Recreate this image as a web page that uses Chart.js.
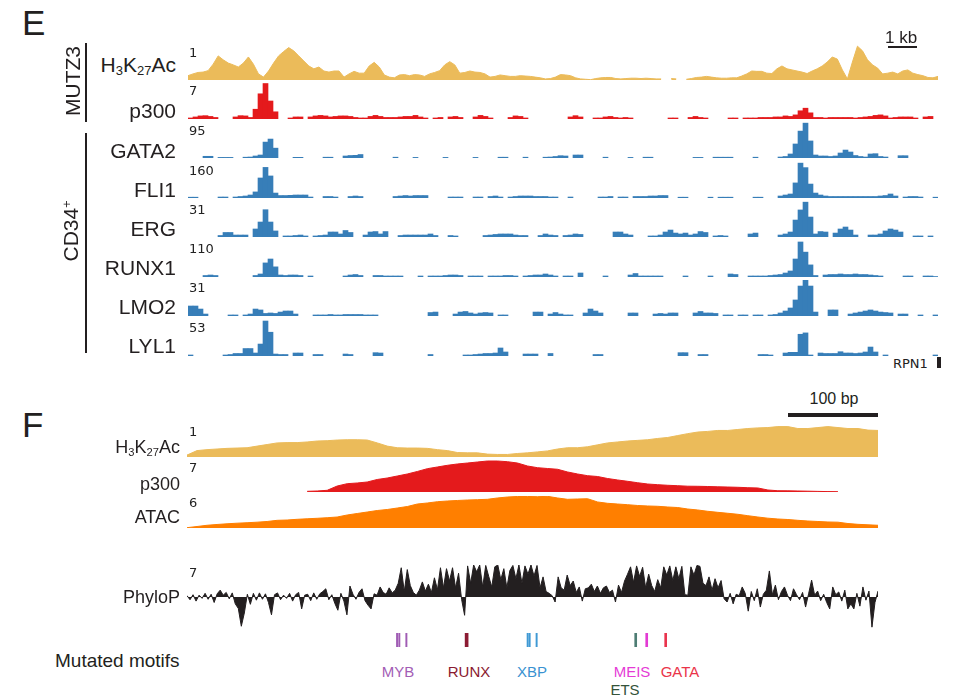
<!DOCTYPE html>
<html>
<head>
<meta charset="utf-8">
<script src="https://cdn.jsdelivr.net/npm/chart.js"></script>
<style>
  body { margin: 0; background: #fff; }
  #fig { position: relative; width: 957px; height: 697px; overflow: hidden; background: #fff;
         font-family: "Liberation Sans", Arial, sans-serif; color: #231f20; }
  #fig canvas { position: absolute; }
  .t { position: absolute; white-space: nowrap; line-height: 1; }
  .t sub { font-size: 0.62em; vertical-align: -0.25em; line-height: 0; }
  .t sup { font-size: 0.6em; vertical-align: 0.55em; line-height: 0; }
  .rule { position: absolute; background: #231f20; }
</style>
</head>
<body>
<div id="fig"></div>
<script>
// ---------- panel E : 150 equal bins across the locus ----------
const h3k27acE = [
  .12,.17,.21,.22,.26,.44,.67,.56,.47,.42,
  .36,.47,.64,.44,.17,.08,.25,.47,.67,.79,
  .9,.81,.67,.53,.39,.31,.36,.25,.22,.25,
  .25,.08,.17,.24,.19,.19,.39,.49,.36,.14,
  .08,.06,.14,.15,.12,.15,.14,.1,.17,.21,
  .26,.42,.51,.42,.19,.21,.25,.22,.21,.17,
  .08,.1,.14,.12,.1,.1,.12,.11,.1,.08,
  .06,.03,.04,.08,.15,.14,.12,.06,.03,.02,
  .01,.04,.06,.07,.07,.04,.03,.04,.05,.05,
  .04,.05,.04,.03,.03,null,.04,.03,null,.02,
  .04,.07,.08,.1,.08,.06,.05,.05,.06,.06,
  .11,.17,.25,.24,.24,.19,.18,.31,.39,.31,
  .28,.25,.22,.18,.25,.31,.39,.5,.64,.58,
  .28,.03,.5,.94,.81,.56,.42,.33,.17,.19,
  .22,.17,.25,.28,.19,.15,.12,.07,.06,.1
];
const p300E = [
  .2,.4,.6,.65,.5,.3,null,null,null,.4,
  .65,.6,.3,1.9,4.9,6.9,3.5,1.4,null,null,
  .2,.4,.4,null,.4,.6,.7,.6,.4,.5,
  .6,.6,.5,.3,.2,.2,.5,.7,.5,.3,
  .3,.3,.4,.5,.5,.7,.4,.2,null,.2,
  .3,null,.4,.5,.3,null,null,.4,.7,.5,
  .2,null,null,null,.3,.6,.5,.2,null,null,
  null,null,null,null,null,null,.4,.65,.4,null,
  null,.2,.2,.4,.5,.3,.2,.3,.2,null,
  null,null,null,null,null,null,.2,.2,null,null,
  .3,.5,.3,.2,null,null,null,null,.2,.2,
  null,.2,.2,.2,.3,.3,.3,.4,.4,.6,
  .5,.8,1.6,2.1,1.2,.3,.3,.2,.3,.3,
  .3,.3,.3,.2,.3,.4,.5,.7,.8,.6,
  .2,.3,.4,.4,.4,.2,null,.4,.5,null
];
const gata2 = [
  null,null,null,4.5,4.5,null,1.6,1.6,1.6,null,
  null,2.1,2.6,5.3,7.9,42,50,26,null,null,
  null,1.8,1.8,null,null,null,null,2.1,2.1,null,
  null,5.3,6.6,7.1,9.2,null,null,null,null,null,
  null,2.1,null,null,null,1.6,null,null,null,null,
  null,1.6,null,null,null,null,null,1.6,null,null,
  null,null,2.1,2.1,null,null,null,2.1,null,null,
  null,2.1,2.6,4,6.1,5.3,null,7.9,7.9,null,
  null,null,null,2.1,null,null,null,null,1.6,null,
  null,2.1,2.1,null,null,null,null,null,null,null,
  null,1.6,1.6,null,null,2.1,2.1,2.1,2.1,null,
  null,null,null,2.1,null,null,null,null,2.6,4,
  10.6,37,71,92,45,7.9,5.3,5.3,4,5.3,
  13.2,21,15.8,6.6,4,2.6,10.6,11.4,4,2.6,
  null,null,6.1,6.1,null,null,null,null,null,null
];
const fli1 = [
  3.6,3.6,null,null,null,null,4.4,4.4,null,4.4,
  6.7,8.9,13.3,27,89,136,98,22,11,11,
  12,13.3,13.3,13.3,4.4,null,null,6.7,6.7,4.4,
  null,null,6.7,8.9,6.7,null,null,null,null,null,
  null,6.7,8.9,11,8.9,11,11,11,null,null,
  null,null,4.4,4.4,4.4,null,null,4.4,4.4,null,
  6.7,8.9,4.4,null,4.4,6.7,8.9,8.9,8.9,6.7,
  6.7,6.7,4.4,4.4,null,null,4.4,null,null,null,
  null,null,4.4,4.4,6.7,null,4.4,4.4,null,6.7,
  6.7,6.7,8.9,8.9,11,11,null,null,3.6,3.6,
  null,null,null,null,3.6,null,3.6,3.6,3.6,null,
  null,null,null,3.6,3.6,null,null,null,8.9,13.3,
  17.8,67,155,135,62,22,13.3,8.9,6.7,6.7,
  6.7,6.7,6.7,6.7,6.7,6.7,6.7,6.7,8.9,11,
  17.8,8.9,null,4.4,6.7,6.7,4.4,null,null,3.6
];
const erg = [
  null,null,null,null,null,null,1.3,3.9,3.9,1.7,
  1.7,1.7,null,6.9,12.9,23.5,12.9,5.2,null,.9,
  .9,1.3,1.7,.9,null,.9,1.3,1.7,4.3,4.3,
  2.6,5.6,3.9,null,null,1.7,4.3,4.7,2.6,4.7,
  null,null,1.3,1.7,1.7,1.7,1.7,1.7,2.6,1.3,
  null,null,1.3,.9,null,null,null,null,null,1.3,
  1.7,2.2,2.6,2.6,2.6,1.7,1.3,1.3,null,null,
  1.3,2.6,1.7,1.3,null,1.3,1.7,2.6,2.2,null,
  null,null,null,null,null,4.3,4.3,2.6,1.7,null,
  null,null,.9,.9,1.7,4.3,6,3.4,2.6,3.4,
  1.7,2.6,4.7,3.9,null,.9,1.3,.9,null,null,
  null,null,2.6,3.4,null,null,null,null,1.7,2.6,
  4.3,14.6,23.3,30,17.2,2.6,4.7,4.3,null,3.4,
  6.9,8.6,6,1.7,null,null,1.7,1.7,2.6,5.2,
  6.9,6,4.3,null,null,.9,.9,null,.9,null
];
const runx1 = [
  null,null,null,4.6,6.1,4.6,null,null,null,null,
  null,null,null,4.6,9.2,43,55,31,6.1,4.6,
  6.1,6.1,4.6,null,3.1,null,null,null,null,null,
  null,3.1,6.1,7.6,4.6,null,null,4.6,4.6,3.1,
  3.1,3.1,3.1,null,null,null,3.1,null,3.1,3.1,
  3.1,4.6,6.1,6.1,4.6,null,3.1,3.1,3.1,null,
  3.1,3.1,3.1,4.6,4.6,3.1,null,3.1,4.6,6.1,
  6.1,9.2,6.1,3.1,null,3.1,3.1,null,12.2,null,
  null,null,null,3.1,null,null,null,null,6.1,10.7,
  3.1,3.1,3.1,3.1,3.1,null,null,null,null,3.1,
  null,null,null,null,3.1,null,null,null,9.2,7.6,
  null,null,3.1,3.1,3.1,3.1,4.6,6.1,7.6,12.2,
  18.4,55,107,76,37,4.6,null,6.1,7.6,7.6,
  9.2,7.6,7.6,9.2,7.6,7.6,6.1,4.6,3.1,null,
  null,null,null,3.1,3.1,null,null,3.1,3.1,1.5
];
const lmo2 = [
  8.6,8.6,6,1.7,null,null,null,null,.9,.9,
  null,.9,1.7,6,5.2,2.2,2.6,2.2,3.4,4.3,
  4.3,1.7,null,null,null,.9,.9,.9,1.3,.9,
  .9,1.3,1.3,1.3,1.3,.9,.9,.9,null,null,
  null,null,null,null,null,null,null,null,3,3.4,
  null,null,null,1.7,3.4,3.9,2.6,1.7,2.6,3,
  2.6,null,.9,.9,null,null,null,null,null,3.4,
  3.4,null,1.7,3,1.7,.9,.9,null,null,2.6,
  6,4.3,2.6,null,null,null,null,null,2.6,2.6,
  null,null,null,1.7,2.2,1.7,2.6,2.6,null,null,
  null,2.6,3.9,2.6,2.6,2.2,null,.9,.9,null,
  .9,.9,null,.9,.9,null,.9,1.3,2.6,4.3,
  6.9,13.8,25.8,31,25.8,3.4,null,null,5.2,5.2,
  null,null,1.7,2.6,3.4,4.3,5.2,4.3,3.4,3,
  2.6,null,1.7,1.7,null,null,.9,null,null,.9
];
const lyl1 = [
  1.5,null,null,null,null,null,null,1.5,2.2,3.7,
  3.7,11,11,4.4,17.6,51.5,35,2.9,2.2,2.2,
  null,4.4,4.4,null,null,2.2,2.2,null,null,null,
  null,2.9,2.2,null,null,null,null,4.9,4.4,null,
  null,null,null,null,null,null,null,null,2.2,null,
  null,null,null,null,null,1.5,1.5,2.2,2.9,3.7,
  3.7,4.4,11.8,5.9,null,null,null,2.9,2.9,2.9,
  null,null,3.7,null,null,null,null,null,null,null,
  null,2.2,2.2,null,null,null,null,null,null,null,
  null,null,null,null,null,null,null,null,4.9,4.9,
  null,null,2.2,2.2,null,null,null,null,null,null,
  null,null,null,null,2.2,2.2,1.5,null,null,4.4,
  5.4,5.4,32,34,1.5,null,4.4,3.7,3.7,3.7,
  6.3,4.4,4.4,3.7,4.4,5.9,13.2,5.9,null,1.5,
  null,null,null,null,null,null,null,null,null,1.5
];
const eNames = ["H<sub>3</sub>K<sub>27</sub>Ac", "p300", "GATA2", "FLI1", "ERG", "RUNX1", "LMO2", "LYL1"];
const eScale = [1, 7, 95, 160, 31, 110, 31, 53];

// ---------- panel F : enhancer close-up (772 bp) ----------
const h3k27acF = [
  .06,.2,.23,.25,.27,.28,.29,.34,.39,.44,
  .45,.45,.47,.5,.51,.53,.54,.54,.53,.44,
  .34,.29,.28,.28,.27,.23,.2,.14,.13,.13,
  .09,.08,.08,.11,.13,.16,.19,.25,.29,.29,
  .32,.38,.44,.47,.5,.52,.54,.58,.61,.67,
  .73,.78,.8,.83,.83,.86,.89,.91,.92,.95,
  .95,.89,.89,.92,.95,.92,.89,.89,.84,.83
];
const p300F = [
  null,null,null,null,null,null,null,null,null,null,
  null,null,.15,.22,.37,1.31,1.82,1.97,2.19,2.74,
  3.06,3.5,3.94,4.49,5.1,5.47,5.84,6.13,6.34,6.56,
  6.78,6.78,6.63,6.34,5.69,5.32,5.14,4.97,4.38,3.94,
  3.57,3.39,2.95,2.63,2.34,2.03,1.75,1.6,1.47,1.38,
  1.27,1.25,1.2,1.14,1.09,1.03,.94,.88,.44,.28,
  .26,.22,.18,.13,.09,.07,null,null,null,null
];
const atacF = [
  .06,.28,.51,.66,.79,.9,.99,1.09,1.22,1.44,
  1.5,1.63,1.73,1.82,1.93,2.06,2.44,2.72,3.0,3.28,
  3.47,3.75,4.03,4.5,4.69,4.93,5.06,5.16,5.25,5.31,
  5.38,5.63,5.81,5.91,5.91,5.87,5.94,5.63,5.38,5.44,
  5.49,4.88,4.63,4.5,4.37,4.22,4.13,4.07,3.94,3.84,
  3.56,3.38,3.13,2.94,2.76,2.57,2.31,2.06,1.84,1.69,
  1.59,1.44,1.31,1.22,1.13,1.09,.84,.69,.6,.51
];
const phyloP = [
  .3,-.6,.5,-.9,.4,-.3,.8,-.5,.6,-1.2,
  .7,1.5,.4,1.0,-.4,.9,-1.5,-2.5,-6.4,-3.5,
  .6,-1.6,.8,-.7,.9,-.5,.7,-1.2,-3.9,.5,
  .9,-.6,.4,-.3,.8,-.9,.5,1.0,-2.6,.4,
  .6,-.8,.9,-.5,.7,1.2,1.8,-.6,.5,-1.4,
  -2.9,.8,-.9,-3.9,2.4,.6,-.5,1.0,1.8,-.8,
  -1.8,-2.6,.7,.4,2.2,1.0,.6,2.0,.9,1.5,
  3.0,6.4,1.2,6.0,2.5,1.0,.4,1.5,3.3,1.3,
  2.8,1.0,4.2,1.6,6.4,2.0,6.2,3.5,6.4,2.0,
  5.2,-.5,-4.0,6.8,3.0,7.0,5.5,7.0,2.2,6.9,
  4.5,2.2,6.6,7.0,3.8,6.2,2.0,5.8,6.9,4.0,
  7.0,3.0,6.8,5.0,7.0,4.6,6.9,2.0,4.4,1.2,
  .8,.3,-1.1,4.4,2.0,1.5,4.8,2.5,3.5,1.0,
  2.2,-.9,1.8,2.0,2.8,1.2,2.4,.8,2.0,2.4,
  1.0,1.5,-1.1,2.6,1.0,3.5,5.0,6.6,3.2,6.8,
  4.5,6.5,2.0,5.0,2.5,1.2,3.8,2.0,6.6,4.8,
  6.8,3.6,6.6,4.0,6.7,.5,.4,6.6,4.8,6.9,
  6.7,3.0,2.5,4.4,1.5,4.0,2.0,3.6,-.4,-1.1,
  .8,-1.5,.6,.3,2.2,.8,-3.1,1.2,-.8,1.8,
  -2.2,.6,1.5,5.7,.5,2.6,-.6,1.2,2.2,.4,
  -.8,1.8,.5,-.6,1.0,-2.2,.7,3.7,.4,1.3,
  -.8,.6,-1.2,-2.6,2.2,.5,1.1,-.9,1.5,-2.6,
  -1.5,-2.6,.8,-2.0,2.2,-.7,1.3,-6.6,-1.2,1.3
];
const fNames = ["H<sub>3</sub>K<sub>27</sub>Ac", "p300", "ATAC"];
const fScale = [1, 7, 6];
const phyloScale = 7;
const regionBp = 772;

// mutated motifs (bp from the left edge of panel F)
const motifNames = ["MYB", "MYB", "MYB", "RUNX", "XBP", "XBP", "XBP", "ETS", "MEIS", "GATA"];
const motifPos = [234.7, 237.2, 245.1, 312.4, 380.6, 382.8, 390.6, 501.3, 513.6, 534.8];
const motifColor = { MYB: "#a05cb4", RUNX: "#8c1b33", XBP: "#3f99d4", ETS: "#4e7d74", MEIS: "#e23ad3", GATA: "#e9344e" };
const motifTextColor = { MYB: "#a35db5", RUNX: "#8a1a30", XBP: "#3a92d1", ETS: "#34533a", MEIS: "#e53bd6", GATA: "#ea3449" };

const YELLOW = "#ebbb5a", RED = "#e41a1c", BLUE = "#377eb8", ORANGE = "#ff7f00", INK = "#231f20";

const fig = document.getElementById("fig");

function text(html, x, base, size, align, color, family) {
  const d = document.createElement("div");
  d.className = "t";
  d.innerHTML = html;
  d.style.fontSize = size + "px";
  if (family) d.style.fontFamily = family;
  if (color) d.style.color = color;
  d.style.top = (base - 0.846 * size) + "px";
  if (align === "right") d.style.right = (957 - x) + "px";
  else if (align === "center") { d.style.left = x + "px"; d.style.transform = "translateX(-50%)"; }
  else d.style.left = x + "px";
  fig.appendChild(d);
}

function vtext(html, baseX, midY, size) {
  const d = document.createElement("div");
  d.className = "t";
  d.innerHTML = html;
  d.style.fontSize = size + "px";
  d.style.left = "0px";
  d.style.top = "0px";
  d.style.transformOrigin = "0 0";
  d.style.transform = "translate(" + baseX + "px," + midY + "px) rotate(-90deg) translate(-50%,-0.846em)";
  fig.appendChild(d);
}

function rule(x, y, w, h) {
  const d = document.createElement("div");
  d.className = "rule";
  d.style.left = x + "px"; d.style.top = y + "px";
  d.style.width = w + "px"; d.style.height = h + "px";
  fig.appendChild(d);
}

function canvasAt(left, top, w, h) {
  const c = document.createElement("canvas");
  c.width = w; c.height = h;
  c.style.left = left + "px"; c.style.top = top + "px";
  fig.appendChild(c);
  return c.getContext("2d");
}

const quiet = {
  responsive: false,
  animation: false,
  events: [],
  layout: { padding: 0 },
  plugins: { legend: { display: false }, tooltip: { enabled: false } }
};

function track(left, top, w, h, type, values, color, yMin, yMax) {
  const isBar = type === "bar";
  return new Chart(canvasAt(left, top, w, h), {
    type: type,
    data: {
      labels: values.map((_, i) => i),
      datasets: [{
        data: values,
        backgroundColor: color,
        borderColor: color,
        borderWidth: isBar ? 0 : 1,
        fill: isBar ? false : "origin",
        pointRadius: 0,
        tension: 0,
        barPercentage: 1,
        categoryPercentage: 1
      }]
    },
    options: Object.assign({}, quiet, {
      scales: {
        x: { display: false, offset: isBar },
        y: { display: false, min: yMin, max: yMax }
      }
    })
  });
}

// ---------- panel E ----------
const eData = [h3k27acE, p300E, gata2, fli1, erg, runx1, lmo2, lyl1];
const eColor = [YELLOW, RED, BLUE, BLUE, BLUE, BLUE, BLUE, BLUE];
const eTop = [44, 83, 122, 162, 201, 241, 280, 320];
const eLabelBase = [72, 118, 158, 197, 236, 275, 314, 353];
const eScaleBase = [57, 95, 135, 174.5, 214, 253, 292, 332];

eData.forEach(function (vals, k) {
  track(188, eTop[k], 750, 36, k === 0 ? "line" : "bar", vals, eColor[k], 0, eScale[k]);
  text(eNames[k], 176, eLabelBase[k], 21, "right");
  text(String(eScale[k]), 189, eScaleBase[k], 13, "left", "#222", "'DejaVu Sans', sans-serif");
});

text("E", 22, 35, 35, "left");
vtext("MUTZ3", 80, 81, 21);
vtext("CD34<sup>+</sup>", 77.5, 231, 21);
rule(85, 43, 2, 79);
rule(85, 133, 2, 220);
text("1 kb", 885, 43, 17, "left");
rule(888, 46, 29, 2);
text("RPN1", 893, 368, 13, "left", "#222", "'DejaVu Sans', sans-serif");
rule(937, 357, 4, 11);

// ---------- panel F ----------
const fData = [h3k27acF, p300F, atacF];
const fColor = [YELLOW, RED, ORANGE];
const fTop = [425, 460, 496];
const fLabelBase = [453, 490, 523];
const fScaleBase = [436, 472, 507];

fData.forEach(function (vals, k) {
  track(187, fTop[k], 691, 32, "line", vals, fColor[k], 0, fScale[k]);
  text(fNames[k], 180, fLabelBase[k], 18, "right");
  text(String(fScale[k]), 189, fScaleBase[k], 13, "left", "#222", "'DejaVu Sans', sans-serif");
});

track(187, 565, 691, 64, "line", phyloP, INK, -phyloScale, phyloScale);
text("PhyloP", 180, 603, 18, "right");
text(String(phyloScale), 189, 577, 13, "left", "#222", "'DejaVu Sans', sans-serif");

text("F", 22, 437, 35, "left");
text("100 bp", 834, 405, 16, "center");
rule(788, 413, 90, 4);

// motif ticks: thin bars on the same bp axis as panel F
new Chart(canvasAt(187, 633, 691, 14), {
  type: "bar",
  data: {
    datasets: motifPos.map(function (p, i) {
      const n = motifNames[i];
      return {
        data: [{ x: p, y: 1 }],
        backgroundColor: motifColor[n],
        barThickness: n === "RUNX" ? 3 : (n === "MYB" || n === "XBP" ? 1.3 : 2),
        grouped: false,
        borderWidth: 0
      };
    })
  },
  options: Object.assign({}, quiet, {
    scales: {
      x: { type: "linear", display: false, offset: false, min: 0, max: regionBp },
      y: { display: false, min: 0, max: 1 }
    }
  })
});

text("Mutated motifs", 55, 667, 19, "left");
text("MYB", 398, 677, 15, "center", motifTextColor.MYB);
text("RUNX", 469, 677, 15, "center", motifTextColor.RUNX);
text("XBP", 532, 677, 15, "center", motifTextColor.XBP);
text("MEIS", 632, 677, 15, "center", motifTextColor.MEIS);
text("GATA", 680, 677, 15, "center", motifTextColor.GATA);
text("ETS", 625, 695, 15, "center", motifTextColor.ETS);
</script>
</body>
</html>
